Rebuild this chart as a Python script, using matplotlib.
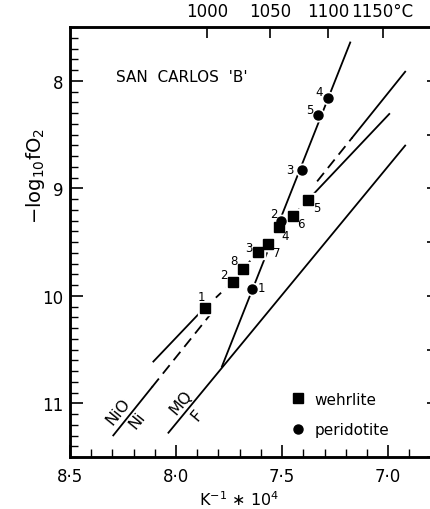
import numpy as np
import matplotlib.pyplot as plt
from matplotlib.ticker import MultipleLocator
from matplotlib.lines import Line2D

plt.rcParams['font.family'] = 'DejaVu Sans'

# wehrlite samples 1..8  (x = 1e4/T K, y = -log10 fO2)
wehr_lab = ['1', '2', '3', '4', '5', '6', '7', '8']
wehr_x = [7.862, 7.733, 7.612, 7.516, 7.379, 7.451, 7.567, 7.684]
wehr_y = [10.11, 9.87, 9.59, 9.36, 9.11, 9.26, 9.52, 9.75]

# peridotite samples 1..5
peri_lab = ['1', '2', '3', '4', '5']
peri_x = [7.640, 7.505, 7.407, 7.282, 7.332]
peri_y = [9.94, 9.30, 8.83, 8.16, 8.32]

# NiO-Ni buffer (break points where the line style changes)
nini_x = [8.296, 8.113, 7.840, 7.335, 7.170, 6.920]
nini_y = [11.299, 10.849, 10.178, 8.936, 8.530, 7.916]

# MQ-F buffer
mqf_x = [8.036, 6.920]
mqf_y = [11.274, 8.603]

# wehrlite trend ends
wtr_lo_x = [8.107, 7.887]
wtr_lo_y = [10.612, 10.156]
wtr_hi_x = [7.379, 6.995]
wtr_hi_y = [9.11, 8.309]

# peridotite trend, in two pieces
ptr1_x = [7.784, 7.572]
ptr1_y = [10.659, 9.603]
ptr2_x = [7.505, 7.179]
ptr2_y = [9.269, 7.644]

temps_c = np.array([1000, 1050, 1100, 1150])
temp_labels = ['1000', '1050', '1100', '1150°C']

# label offsets in pixels
wehr_off = [(-4, 11), (-9, 7), (-10, 4), (6, -9), (9, -7), (8, -7), (9, -8), (-9, 8)]
peri_off = [(9, 2), (-7, 7), (-12, 0), (-9, 6), (-8, 6)]

fig = plt.figure(figsize=(4.31, 5.10), dpi=100)
ax = fig.add_axes([70/431, 52/510, 367/431, 430/510])
ax.set_xlim(8.5, 6.77)
ax.set_ylim(11.5, 7.5)

lw = 1.3
ax.plot(nini_x[0:2], nini_y[0:2], color='black', lw=lw)
ax.plot(nini_x[1:3], nini_y[1:3], color='black', lw=lw, dashes=(6, 3.5))
ax.plot(nini_x[3:5], nini_y[3:5], color='black', lw=lw, dashes=(6, 3.5))
ax.plot(nini_x[4:6], nini_y[4:6], color='black', lw=lw)
ax.plot(mqf_x, mqf_y, color='black', lw=lw)

ax.plot(wtr_lo_x, wtr_lo_y, color='black', lw=lw)
order = np.argsort(wehr_x)[::-1]
ax.plot(np.array(wehr_x)[order], np.array(wehr_y)[order], color='black', lw=lw, dashes=(4, 4))
ax.plot(wtr_hi_x, wtr_hi_y, color='black', lw=lw)
ax.plot(ptr1_x, ptr1_y, color='black', lw=lw)
ax.plot(ptr2_x, ptr2_y, color='black', lw=lw)

# white halo so the lines break at the symbols
ax.plot(wehr_x, wehr_y, 's', color='white', ms=9.5, zorder=3)
ax.plot(peri_x, peri_y, 'o', color='white', ms=9, zorder=3)
ax.plot(wehr_x, wehr_y, 's', color='black', ms=6.8, zorder=4)
ax.plot(peri_x, peri_y, 'o', color='black', ms=6.5, zorder=4)

for lab, x, y, off in zip(wehr_lab, wehr_x, wehr_y, wehr_off):
    ax.annotate(lab, (x, y), xytext=off, textcoords='offset pixels',
                ha='center', va='center', fontsize=8.5, zorder=5)
for lab, x, y, off in zip(peri_lab, peri_x, peri_y, peri_off):
    ax.annotate(lab, (x, y), xytext=off, textcoords='offset pixels',
                ha='center', va='center', fontsize=8.5, zorder=5)

ax.text(0.305, 0.886, "SAN  CARLOS  'B'", transform=ax.transAxes,
        ha='center', va='center', fontsize=11)
ax.text(0.132, 0.108, 'NiO', transform=ax.transAxes, rotation=51,
        ha='center', va='center', fontsize=11.5)
ax.text(0.184, 0.086, 'Ni', transform=ax.transAxes, rotation=51,
        ha='center', va='center', fontsize=11.5)
ax.text(0.302, 0.128, 'MQ', transform=ax.transAxes, rotation=50,
        ha='center', va='center', fontsize=11.5)
ax.text(0.345, 0.098, 'F', transform=ax.transAxes, rotation=50,
        ha='center', va='center', fontsize=11.5)

handles = [Line2D([], [], marker='s', ls='none', color='black', ms=6.8),
           Line2D([], [], marker='o', ls='none', color='black', ms=6.5)]
ax.legend(handles, ['wehrlite', 'peridotite'], loc='upper left',
          bbox_to_anchor=(0.6, 0.152), frameon=False, fontsize=11,
          handlelength=1.0, handletextpad=0.6, labelspacing=1.0, borderpad=0,
          borderaxespad=0)

# axes, ticks
for s in ax.spines.values():
    s.set_linewidth(1.8)
ax.set_xticks([8.5, 8.0, 7.5, 7.0])
ax.set_xticklabels(['8·5', '8·0', '7·5', '7·0'])
ax.set_yticks([8, 9, 10, 11])
ax.set_yticklabels(['8', '9', '10', '11'])
ax.xaxis.set_minor_locator(MultipleLocator(0.1))
ax.yaxis.set_minor_locator(MultipleLocator(0.1))
ax.tick_params(which='both', direction='in', top=False, right=False)
ax.tick_params(which='major', length=9, width=1.2, labelsize=12)
ax.tick_params(axis='x', which='major', pad=7)
ax.tick_params(axis='y', which='major', pad=5)
ax.tick_params(which='minor', length=6, width=1.0)

ax.set_xlabel('K$^{-1}$ $\\ast$ 10$^{4}$', fontsize=11.5)
ax.xaxis.set_label_coords(0.46, -0.074)
ax.set_ylabel('−log$_{10}$fO$_2$', fontsize=14)
ax.yaxis.set_label_coords(-0.063, 0.655)

axt = ax.twiny()
axt.set_xlim(ax.get_xlim())
axt.set_xticks(1e4 / (temps_c + 273.15))
axt.set_xticklabels(temp_labels)
axt.tick_params(direction='in', length=8, width=1.2, labelsize=12, pad=5)
for s in axt.spines.values():
    s.set_linewidth(1.8)

axr = ax.secondary_yaxis('right')
axr.set_yticks(np.arange(8, 11.6, 0.5))
axr.set_yticklabels([])
axr.tick_params(direction='in', length=7, width=1.2)

fig.savefig('out.png', dpi=100)
